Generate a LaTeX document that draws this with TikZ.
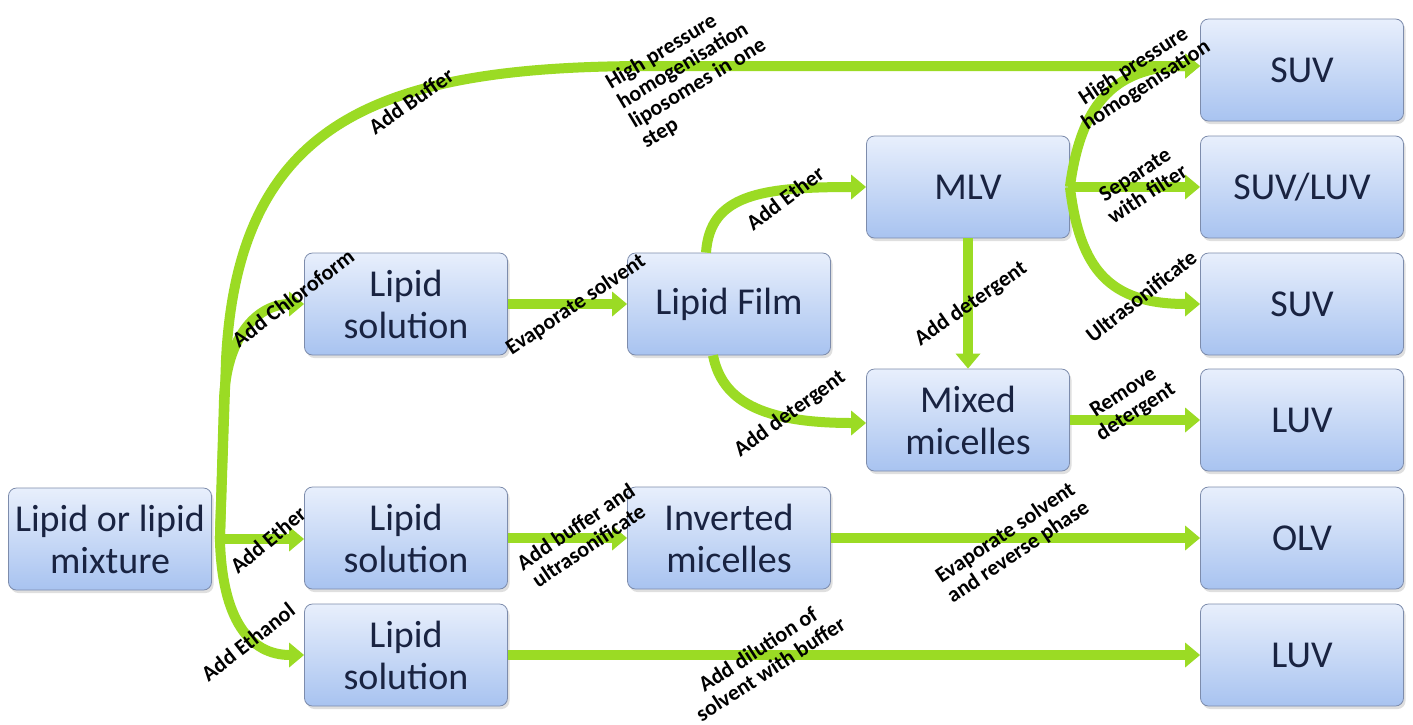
\documentclass[tikz,border=0pt]{standalone}
\usepackage{fontspec}
\setmainfont{Carlito}
\usepackage{xcolor}
\usepackage{tikz}
\usetikzlibrary{arrows.meta,shadows}

\definecolor{flowgreen}{RGB}{155,219,36}
\definecolor{boxtop}{RGB}{232,239,252}
\definecolor{boxbottom}{RGB}{168,195,240}
\definecolor{boxline}{RGB}{125,140,172}
\definecolor{boxtext}{RGB}{25,35,65}

\begin{document}
\begin{tikzpicture}[x=1pt,y=-1pt,
    stage/.style={rectangle, rounded corners=8pt, draw=boxline, line width=0.8pt,
      top color=boxtop, bottom color=boxbottom, minimum width=203pt, minimum height=102pt,
      align=center, text=boxtext, font=\fontsize{38}{42}\selectfont,
      drop shadow={shadow xshift=2pt, shadow yshift=-3pt, opacity=0.25}},
    flow/.style={draw=flowgreen, line width=10pt, -{Triangle[length=15pt,width=24pt]}},
    lab/.style={font=\bfseries\fontsize{22}{23}\selectfont, align=center, inner sep=0pt}]
    \fill[white] (0,0) rectangle (1413,724);
    \useasboundingbox (0,0) rectangle (1413,724);

    % stages
    \node [stage] (mix)    at (110,539)  {Lipid or lipid\\mixture};
    \node [stage] (solA)   at (406,304)  {Lipid\\solution};
    \node [stage] (solB)   at (406,538)  {Lipid\\solution};
    \node [stage] (solC)   at (406,655)  {Lipid\\solution};
    \node [stage] (film)   at (729,304)  {Lipid Film};
    \node [stage] (inv)    at (729,538)  {Inverted\\micelles};
    \node [stage] (mlv)    at (968,187)  {MLV};
    \node [stage] (mixmic) at (968,420)  {Mixed\\micelles};
    \node [stage] (suvA)   at (1302,70)  {SUV};
    \node [stage] (suvluv) at (1302,187) {SUV/LUV};
    \node [stage] (suvB)   at (1302,304) {SUV};
    \node [stage] (luvA)   at (1302,420) {LUV};
    \node [stage] (olv)    at (1302,538) {OLV};
    \node [stage] (luvB)   at (1302,655) {LUV};

    \coordinate (trunk) at ([xshift=8pt]mix.east);

    % flows
    \draw [flow] (trunk) -- (226,360) .. controls (238,120) and (380,66) .. (650,66) -- ([yshift=4pt]suvA.west);
    \draw [flow] (trunk) -- (224,400) .. controls (226,340) and (255,304) .. (solA.west);
    \draw [flow] (trunk) -- (trunk -| solB.west);
    \draw [flow] (trunk) .. controls (222,620) and (250,655) .. (solC.west);
    \draw [flow] (solA) -- (film);
    \draw [flow] ([xshift=-23pt]film.north) .. controls (710,195) and (760,187) .. (mlv.west);
    \draw [flow] ([xshift=-16pt]film.south) .. controls (722,400) and (760,423) .. ([yshift=-3pt]mixmic.west);
    \draw [flow] (mlv) -- (mixmic);
    \draw [flow] (mlv.east) .. controls (1080,110) and (1110,66) .. ([yshift=4pt]suvA.west);
    \draw [flow] (mlv) -- (suvluv);
    \draw [flow] (mlv.east) .. controls (1080,270) and (1110,304) .. (suvB.west);
    \draw [flow] (mixmic) -- (luvA);
    \draw [flow] (solB) -- (inv);
    \draw [flow] (inv) -- (olv);
    \draw [flow] (solC) -- (luvB);

    % labels
    \node [lab, rotate=35] (lbuffer) at (411,101) {Add Buffer};
    \node [lab, rotate=31, align=left] (lonestep) at (692,74) {High pressure\\homogenisation\\liposomes in one\\step};
    \node [lab, rotate=37] (lchloro) at (293,298) {Add Chloroform};
    \node [lab, rotate=40] (lether) at (268,540) {Add Ether};
    \node [lab, rotate=38] (lethanol) at (248,642) {Add Ethanol};
    \node [lab, rotate=34] (levap) at (576,305) {Evaporate solvent};
    \node [lab, rotate=34] (lsonoB) at (582,536) {Add buffer and\\ultrasonificate};
    \node [lab, rotate=37] (letherB) at (785,198) {Add Ether};
    \node [lab, rotate=36] (ldetfilm) at (790,414) {Add detergent};
    \node [lab, rotate=35] (ldetmlv) at (971,304) {Add detergent};
    \node [lab, rotate=33] (lhighp) at (1140,76) {High pressure\\homogenisation};
    \node [lab, rotate=33] (lfilter) at (1141,184) {Separate\\with filter};
    \node [lab, rotate=38] (lsono) at (1141,296) {Ultrasonificate};
    \node [lab, rotate=33] (lremove) at (1130,403) {Remove\\detergent};
    \node [lab, rotate=34] (lrevphase) at (1012,543) {Evaporate solvent\\and reverse phase};
    \node [lab, rotate=33] (ldilution) at (764,659) {Add dilution of\\solvent with buffer};
\end{tikzpicture}
\end{document}
